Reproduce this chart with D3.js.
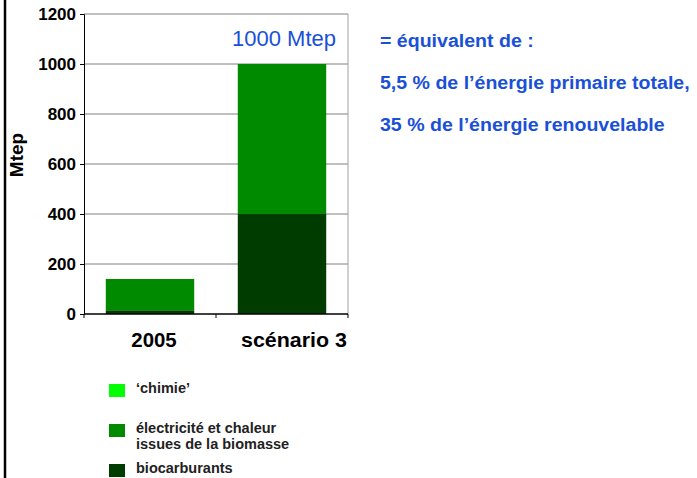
<!DOCTYPE html>
<html>
<head>
<meta charset="utf-8">
<script src="https://cdn.jsdelivr.net/npm/d3@7"></script>
<style>
  body { margin: 0; background: #fff; }
  text { font-family: "Liberation Sans", Arial, sans-serif; }
</style>
</head>
<body>
<div id="chart"></div>
<script>
// data
const categories = ["2005", "scénario 3"];
const biocarburants = [15, 400];
const electricite = [125, 600];
const chimie = [0, 0];
const yTicks = [0, 200, 400, 600, 800, 1000, 1200];
const seriesNames = ["biocarburants", "électricité", "chimie"];
const noteLines = ["= équivalent de :", "5,5 % de l’énergie primaire totale,", "35 % de l’énergie renouvelable"];

const width = 697, height = 478;
const plot = {left: 84, right: 348, top: 14, bottom: 314};

const colors = {
  chimie: "#00ff00",
  "électricité": "#008a00",
  biocarburants: "#003c00"
};
const blue = "#1a50d8";

const svg = d3.select("#chart")
  .append("svg")
    .attr("width", width)
    .attr("height", height);

// left border line of the slide
svg.append("line")
  .attr("x1", 5).attr("x2", 5)
  .attr("y1", 0).attr("y2", height)
  .style("stroke", "#000")
  .style("stroke-width", 2.5);

const x = d3.scaleBand()
  .domain(categories)
  .range([plot.left, plot.right])
  .paddingInner(0.33)
  .paddingOuter(0.165);

const y = d3.scaleLinear()
  .domain([0, 1200])
  .range([plot.bottom, plot.top]);

// gridlines
svg.append("g")
  .selectAll("line")
  .data(yTicks.filter(d => d > 0))
  .join("line")
    .attr("x1", plot.left).attr("x2", plot.right)
    .attr("y1", d => y(d)).attr("y2", d => y(d))
    .style("stroke", "#808080")
    .style("stroke-width", 1);

// right border of plot area
svg.append("line")
  .attr("x1", plot.right).attr("x2", plot.right)
  .attr("y1", plot.top).attr("y2", plot.bottom)
  .style("stroke", "#a0a0a0");

// stacked bars
const rows = categories.map((c, i) => ({
  cat: c,
  "biocarburants": biocarburants[i],
  "électricité": electricite[i],
  "chimie": chimie[i]
}));
const stacked = d3.stack().keys(seriesNames)(rows);

svg.append("g")
  .selectAll("g")
  .data(stacked)
  .join("g")
    .style("fill", d => colors[d.key])
  .selectAll("rect")
  .data(d => d)
  .join("rect")
    .attr("x", d => x(d.data.cat))
    .attr("width", x.bandwidth())
    .attr("y", d => y(d[1]))
    .attr("height", d => y(d[0]) - y(d[1]));

// y axis
const yAxis = svg.append("g")
  .attr("transform", `translate(${plot.left},0)`)
  .call(d3.axisLeft(y).tickValues(yTicks).tickSize(4).tickFormat(d3.format("d")));
yAxis.select(".domain").style("stroke", "#000");
yAxis.selectAll(".tick line").style("stroke", "#000");
yAxis.selectAll("text")
  .attr("x", -8)
  .style("font-size", "17px")
  .style("font-weight", "bold")
  .style("fill", "#000")
  .style("font-family", "Liberation Sans, Arial, sans-serif");

// x axis with ticks at band edges
svg.append("line")
  .attr("x1", plot.left).attr("x2", plot.right)
  .attr("y1", plot.bottom).attr("y2", plot.bottom)
  .style("stroke", "#000").style("stroke-width", 1.5);
const edges = [plot.left, (plot.left + plot.right) / 2, plot.right];
svg.append("g")
  .selectAll("line")
  .data(edges)
  .join("line")
    .attr("x1", d => d).attr("x2", d => d)
    .attr("y1", plot.bottom).attr("y2", plot.bottom + 4)
    .style("stroke", "#000");
svg.append("g")
  .selectAll("text")
  .data(categories)
  .join("text")
    .attr("transform", (d, i) => `translate(${x(d) + x.bandwidth() / 2 + 4 + i * 8},347) scale(${i ? 1.07 : 1.02},1)`)
    .attr("text-anchor", "middle")
    .style("font-size", "20px")
    .style("font-weight", "bold")
    .text(d => d);

// axis title
svg.append("text")
  .attr("transform", "translate(23,155) rotate(-90)")
  .attr("text-anchor", "middle")
  .style("font-size", "19px")
  .style("font-weight", "bold")
  .text("Mtep");

// total label
svg.append("text")
  .attr("x", 336)
  .attr("y", 46)
  .attr("text-anchor", "end")
  .style("font-size", "22px")
  .style("fill", blue)
  .text(d3.sum(stacked.map(s => s[1][1] - s[1][0])) + " Mtep");

// note on the right
svg.append("g")
  .selectAll("text")
  .data(noteLines)
  .join("text")
    .attr("transform", (d, i) => `translate(380,${47 + i * 42}) scale(1.03,1)`)
    .style("font-size", "19px")
    .style("font-weight", "bold")
    .style("fill", blue)
    .text(d => d);

// legend
const legend = [
  {key: "chimie", lines: ["‘chimie’"], y: 384},
  {key: "électricité", lines: ["électricité et chaleur", "issues de la biomasse"], y: 424},
  {key: "biocarburants", lines: ["biocarburants"], y: 464}
];
const lg = svg.append("g")
  .selectAll("g")
  .data(legend)
  .join("g")
    .attr("transform", d => `translate(109,${d.y})`);
lg.append("rect")
  .attr("width", 16)
  .attr("height", 13)
  .style("fill", d => colors[d.key]);
lg.selectAll("text")
  .data(d => d.lines)
  .join("text")
    .attr("x", 27)
    .attr("y", (d, i) => 9 + i * 16)
    .style("font-size", "14.5px")
    .style("font-weight", "bold")
    .style("fill", "#222")
    .text(d => d);
</script>
</body>
</html>
